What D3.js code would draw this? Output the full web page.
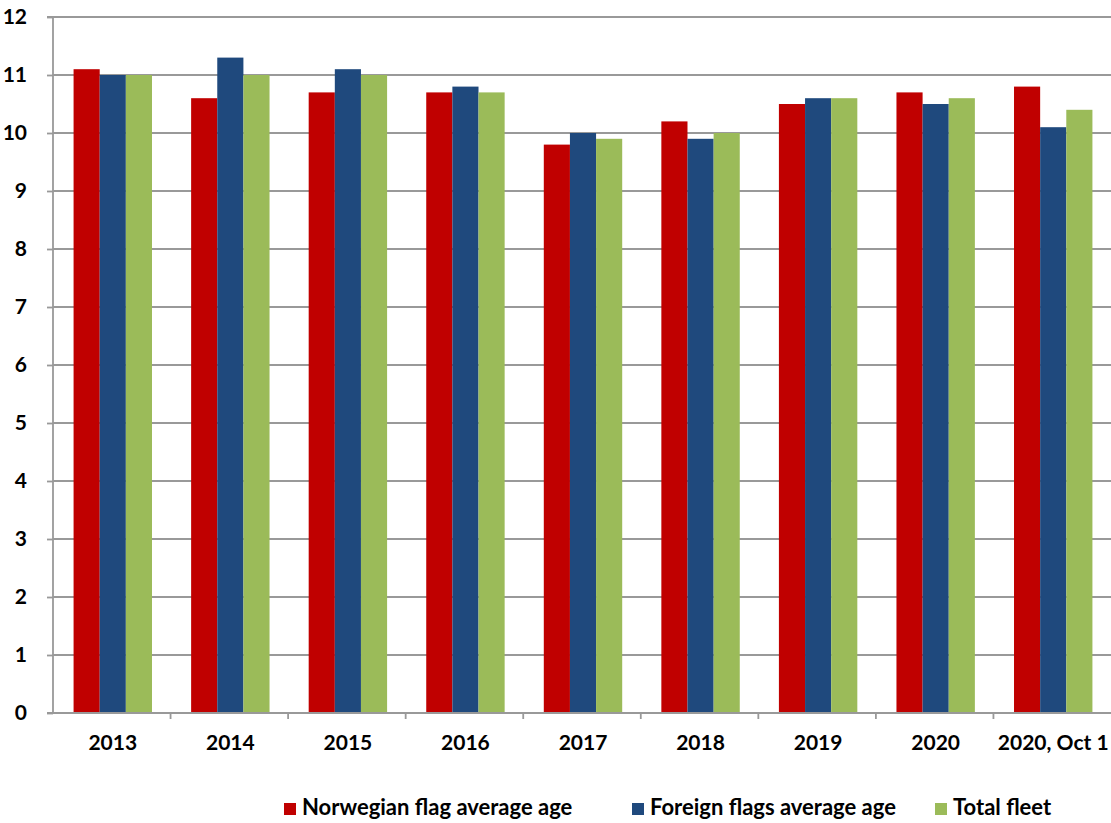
<!DOCTYPE html>
<html><head><meta charset="utf-8">
<script src="https://cdn.jsdelivr.net/npm/d3@7"></script>
<style>body{margin:0;background:#fff}text{font-family:Lato,"Open Sans",sans-serif;font-weight:bold;fill:#000}</style>
</head><body><svg id="c" width="1111" height="823"></svg>
<script>
const categories = ["2013","2014","2015","2016","2017","2018","2019","2020","2020, Oct 1"];
const seriesNames = ["Norwegian flag average age","Foreign flags average age","Total fleet"];
const norwegian = [11.1,10.6,10.7,10.7,9.8,10.2,10.5,10.7,10.8];
const foreign   = [11.0,11.3,11.1,10.8,10.0,9.9,10.6,10.5,10.1];
const total     = [11.0,11.0,11.0,10.7,9.9,10.0,10.6,10.6,10.4];
const yTicks = [0,1,2,3,4,5,6,7,8,9,10,11,12];
const colors = ["#C00000","#1F497D","#9BBB59"];
const series = [norwegian, foreign, total];

const svg = d3.select("#c");
const L=53, R=1111, T=17, B=713;
const x = d3.scaleBand().domain(categories).range([L,R]).paddingInner(0.333).paddingOuter(0.1665);
const xs = d3.scaleBand().domain(d3.range(3)).range([0,x.bandwidth()]);
const y = d3.scaleLinear().domain([0,12]).range([B,T]);

// gridlines
svg.append("g").selectAll("line").data(yTicks.filter(d=>d>0)).join("line")
  .attr("x1",L).attr("x2",R).attr("y1",d=>y(d)).attr("y2",d=>y(d))
  .attr("stroke","#999").attr("stroke-width",1.8);

// bars
const g = svg.append("g");
series.forEach((s,i)=>{
  g.selectAll(null).data(s).join("rect")
    .attr("x",(d,j)=>x(categories[j])+xs(i)+1)
    .attr("width",xs.bandwidth())
    .attr("y",d=>y(d)).attr("height",d=>B-y(d))
    .attr("fill",colors[i]);
});

// y axis
const ya = svg.append("g").attr("transform",`translate(${L},0)`)
  .call(d3.axisLeft(y).tickValues(yTicks).tickSize(6).tickPadding(20));
ya.select(".domain").attr("stroke","#999").attr("stroke-width",1.8).attr("d",`M-6,${T}H0V${B}H-6`);
ya.selectAll(".tick line").attr("stroke","#999").attr("stroke-width",1.8);
ya.selectAll("text").style("font-size","21px").attr("fill","#000");

// x axis
svg.append("line").attr("x1",L).attr("x2",R).attr("y1",B).attr("y2",B).attr("stroke","#999").attr("stroke-width",1.8);
const step = x.step();
svg.append("g").selectAll("line").data(categories.slice(1)).join("line")
  .attr("x1",d=>x(d)-x.paddingInner()*step/2).attr("x2",d=>x(d)-x.paddingInner()*step/2)
  .attr("y1",B).attr("y2",B+6).attr("stroke","#999").attr("stroke-width",1.8);
svg.append("g").selectAll("text").data(categories).join("text")
  .attr("x",d=>x(d)+x.bandwidth()/2+1).attr("y",750).attr("text-anchor","middle")
  .style("font-size","21px").text(d=>d);

// legend
const legX = [284, 632, 935];
const leg = svg.append("g");
seriesNames.forEach((n,i)=>{
  leg.append("rect").attr("x",legX[i]).attr("y",803).attr("width",12).attr("height",12).attr("fill",colors[i]);
  leg.append("text").attr("x",legX[i]+18).attr("y",815).style("font-size","22px").text(n);
});
</script></body></html>
